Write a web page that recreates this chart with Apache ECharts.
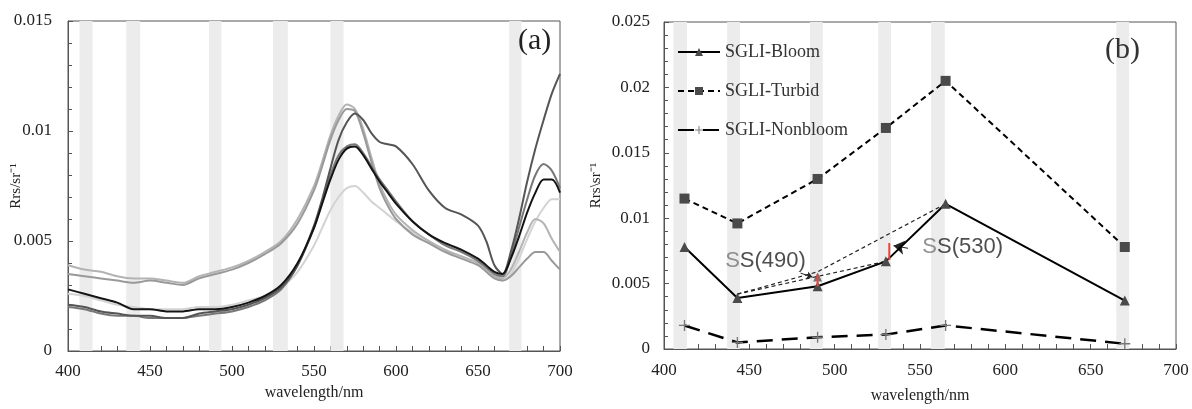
<!DOCTYPE html>
<html>
<head>
<meta charset="utf-8">
<script src="https://cdn.jsdelivr.net/npm/echarts@6/dist/echarts.min.js"></script>
<style>
html,body{margin:0;padding:0;background:#fff;}
#main{width:1192px;height:409px;}
</style>
</head>
<body>
<div id="main"></div>
<script>
// (a) hyperspectral Rrs curves
var wl = [400,410,420,430,440,450,460,470,480,490,500,510,520,530,540,550,
          555,560,565,570,575,580,585,590,595,600,
          610,620,630,640,650,
          655,660,665,670,675,680,685,690,695,700];
var curveU1 = [.0039,.0037,.0036,.0034,.0033,.0033,.0032,.0031,.0034,.0036,.0038,.0041,.0045,.0050,.0060,.0075,
               .0086,.0098,.0107,.0112,.0110,.0101,.0088,.0076,.0068,.0062,
               .0055,.0050,.0046,.0043,.0040,
               .0037,.0034,.0033,.0037,.0045,.0054,.0060,.0058,.0051,.0045];
var curveU2 = [.0035,.0034,.0033,.0032,.0031,.0032,.0031,.0030,.0033,.0035,.0037,.0040,.0044,.0049,.0058,.0073,
               .0084,.0096,.0105,.0110,.0109,.0099,.0086,.0074,.0066,.0060,
               .0053,.0049,.0045,.0042,.0039,
               .0036,.0033,.0032,.0034,.0038,.0042,.0045,.0045,.0041,.0037];
var curveF = [.0026,.0025,.0023,.0021,.0020,.0019,.0019,.0019,.0020,.0020,.0021,.0023,.0025,.0029,.0036,.0048,
              .0056,.0064,.0070,.0074,.0075,.0072,.0068,.0065,.0062,.0059,
              .0054,.0050,.0046,.0043,.0040,
              .0037,.0034,.0032,.0035,.0042,.0051,.0059,.0065,.0069,.0069];
var curveD = [.0020,.0019,.0017,.0016,.0016,.0015,.0015,.0015,.0016,.0017,.0018,.0020,.0023,.0028,.0039,.0056,
              .0068,.0080,.0089,.0093,.0094,.0090,.0084,.0078,.0073,.0068,
              .0059,.0053,.0048,.0045,.0041,
              .0038,.0035,.0034,.0043,.0056,.0069,.0080,.0085,.0082,.0074];
var curveC = [.0021,.0020,.0018,.0017,.0016,.0016,.0015,.0015,.0017,.0018,.0019,.0021,.0024,.0029,.0039,.0057,
              .0069,.0083,.0096,.0104,.0108,.0105,.0099,.0095,.0094,.0093,
              .0085,.0073,.0065,.0062,.0057,
              .0050,.0039,.0035,.0045,.0060,.0077,.0092,.0105,.0117,.0126];
var curveE = [.0028,.0026,.0024,.0022,.0019,.0019,.0018,.0018,.0019,.0019,.0020,.0022,.0025,.0030,.0040,.0056,
              .0067,.0078,.0087,.0092,.0093,.0089,.0083,.0077,.0072,.0067,
              .0059,.0053,.0049,.0046,.0042,
              .0039,.0036,.0035,.0042,.0052,.0063,.0072,.0078,.0078,.0072];
var curveColors = ['#d3d3d3','#b3b3b3','#999999','#777777','#555555','#141414'];

// gray band edges (nm)
var bandsA = [[407,415],[435.5,444],[486,493.5],[525,534],[560,568],[669,676.5]];
var bandsB = [[405.5,413.5],[437,444.5],[485.5,493],[525.5,533],[556.5,564.5],[665,672.5]];

// (b) SGLI bands
var sgliWl = [412,443,490,530,565,670];
var bloom = [.0078,.0039,.0048,.0067,.0111,.0037];
var turbid = [.0115,.0096,.0130,.0169,.0205,.0078];
var nonbloom = [.0018,.0005,.0009,.0011,.0018,.0004];

// SS construction lines
var guide1 = [[443,.0042],[530,.0067]];
var guide2 = [[443,.0042],[490,.0059],[565,.0111]];
var red490 = [[490,.0048],[490,.0057]];
var red530 = [[532,.0068],[532,.0081]];

function pairs(x, y) {
    let out = [];
    for (let i = 0; i < x.length; i++) out.push([x[i], y[i]]);
    return out;
}

function bandArea(b) {
    return b.map(function (e) { return [{xAxis: e[0]}, {xAxis: e[1]}]; });
}

var serif = 'Liberation Serif';
var axisColor = '#555';

function xAx(idx, nameGap, margin) {
    return {
        type: 'value', gridIndex: idx, min: 400, max: 700, interval: 50,
        name: 'wavelength/nm', nameLocation: 'middle', nameGap: nameGap,
        nameTextStyle: {fontFamily: serif, fontSize: 16, color: '#222'},
        axisLine: {lineStyle: {color: axisColor}},
        axisTick: {inside: true, length: 5, lineStyle: {color: axisColor}},
        minorTick: {show: true, splitNumber: 5, length: 5, lineStyle: {color: axisColor}},
        axisLabel: {fontFamily: serif, fontSize: 17, color: '#222', margin: margin},
        splitLine: {show: false}
    };
}

function yAx(idx, max, name, nameGap, margin) {
    return {
        type: 'value', gridIndex: idx, min: 0, max: max, interval: 0.005,
        name: name, nameLocation: 'middle', nameGap: nameGap, nameMoveOverlap: false,
        nameTextStyle: {fontFamily: serif, fontSize: 15, color: '#222'},
        axisLine: {lineStyle: {color: axisColor}},
        axisTick: {inside: true, length: 5, lineStyle: {color: axisColor}},
        minorTick: {show: true, splitNumber: 5, length: 4, lineStyle: {color: axisColor}},
        axisLabel: {fontFamily: serif, fontSize: 17, color: '#222', margin: margin},
        splitLine: {show: false}
    };
}

var series = [];

// bands
series.push({
    type: 'line', xAxisIndex: 0, yAxisIndex: 0, data: [], z: 1, silent: true,
    markArea: {silent: true, itemStyle: {color: '#ececec'}, data: bandArea(bandsA)}
});
series.push({
    type: 'line', xAxisIndex: 1, yAxisIndex: 1, data: [], z: 1, silent: true,
    markArea: {silent: true, itemStyle: {color: '#ececec'}, data: bandArea(bandsB)}
});

// panel (a) curves
var curves = [curveF, curveU1, curveU2, curveD, curveC, curveE];
for (let i = 0; i < curves.length; i++) {
    series.push({
        type: 'line', xAxisIndex: 0, yAxisIndex: 0, z: 3 + i,
        data: pairs(wl, curves[i]), smooth: 0.3, symbol: 'none',
        lineStyle: {color: curveColors[i], width: 2}
    });
}

// panel (b)
var plusPath = 'path://M4.4,0h1.2v10h-1.2z M0,4.4h10v1.2h-10z';
series.push({
    name: 'SGLI-Bloom', type: 'line', xAxisIndex: 1, yAxisIndex: 1, z: 10,
    data: pairs(sgliWl, bloom), symbol: 'triangle', symbolSize: 10,
    itemStyle: {color: '#4a4a4a'}, lineStyle: {color: '#000', width: 2}
});
series.push({
    name: 'SGLI-Turbid', type: 'line', xAxisIndex: 1, yAxisIndex: 1, z: 10,
    data: pairs(sgliWl, turbid), symbol: 'rect', symbolSize: 10,
    itemStyle: {color: '#4a4a4a'}, lineStyle: {color: '#000', width: 2, type: [6, 4]}
});
series.push({
    name: 'SGLI-Nonbloom', type: 'line', xAxisIndex: 1, yAxisIndex: 1, z: 10,
    data: pairs(sgliWl, nonbloom), symbol: plusPath, symbolSize: 11,
    itemStyle: {color: '#777'}, lineStyle: {color: '#000', width: 2.5, type: [16, 9]}
});
series.push({
    type: 'line', xAxisIndex: 1, yAxisIndex: 1, z: 9, data: guide1, symbol: 'none',
    lineStyle: {color: '#222', width: 1.2, type: [4, 3]}
});
series.push({
    type: 'line', xAxisIndex: 1, yAxisIndex: 1, z: 9, data: guide2, symbol: 'none',
    lineStyle: {color: '#222', width: 1.2, type: [4, 3]}
});
series.push({
    type: 'scatter', xAxisIndex: 1, yAxisIndex: 1, z: 11, data: [[490, .0055]],
    symbol: 'triangle', symbolSize: 9, itemStyle: {color: '#555'}
});
series.push({
    type: 'line', xAxisIndex: 1, yAxisIndex: 1, z: 12, data: red490, symbol: 'none',
    lineStyle: {color: '#e8453f', width: 2}
});
series.push({
    type: 'line', xAxisIndex: 1, yAxisIndex: 1, z: 12, data: red530, symbol: 'none',
    lineStyle: {color: '#e8453f', width: 2},
    markLine: {
        silent: true, symbol: ['none', 'arrow'], label: {show: false},
        data: [
            [{coord: [543, .0077], symbolSize: 11}, {coord: [534.5, .0079], symbolSize: 11}],
            [{coord: [480, .0058], symbolSize: 6}, {coord: [487, .0055], symbolSize: 6}]
        ],
        lineStyle: {color: '#222', width: 1, type: 'solid'}
    }
});
// SS labels
series.push({
    type: 'scatter', xAxisIndex: 1, yAxisIndex: 1, z: 13, symbolSize: 0,
    data: [[459.5, .0067, 'SS(490)'], [575, .0078, 'SS(530)']],
    label: {
        show: true, position: 'inside',
        formatter: function (p) { return '{g|S}' + p.value[2].substring(1); },
        fontFamily: 'Liberation Sans', fontSize: 22, color: '#222',
        rich: {g: {fontFamily: 'Liberation Sans', fontSize: 22, color: '#777'}}
    }
});

var option = {
    backgroundColor: '#fff',
    animation: false,
    grid: [
        {left: 68, top: 21, width: 492, height: 330, show: true, borderColor: axisColor, borderWidth: 1},
        {left: 664, top: 22, width: 512, height: 333, show: true, borderColor: axisColor, borderWidth: 1}
    ],
    xAxis: [xAx(0, 33, 12), xAx(1, 39, 13)],
    yAxis: [
        yAx(0, 0.015, 'Rrs/sr\u207B\u00B9', 44, 16),
        yAx(1, 0.025, 'Rrs\\sr\u207B\u00B9', 60, 14)
    ],
    legend: {
        data: ['SGLI-Bloom', 'SGLI-Turbid', 'SGLI-Nonbloom'],
        orient: 'vertical', left: 672, top: 38,
        itemWidth: 42, itemHeight: 10, itemGap: 21,
        textStyle: {fontFamily: serif, fontSize: 18, color: '#333'}
    },
    graphic: [
        {type: 'text', left: 518, top: 26, z: 100, style: {text: '(a)', font: '30px "Liberation Serif"', fill: '#222'}},
        {type: 'text', left: 1105, top: 35, z: 100, style: {text: '(b)', font: '30px "Liberation Serif"', fill: '#333'}}
    ],
    series: series
};

var myChart = echarts.init(document.getElementById('main'));
myChart.setOption(option);
</script>
</body>
</html>
